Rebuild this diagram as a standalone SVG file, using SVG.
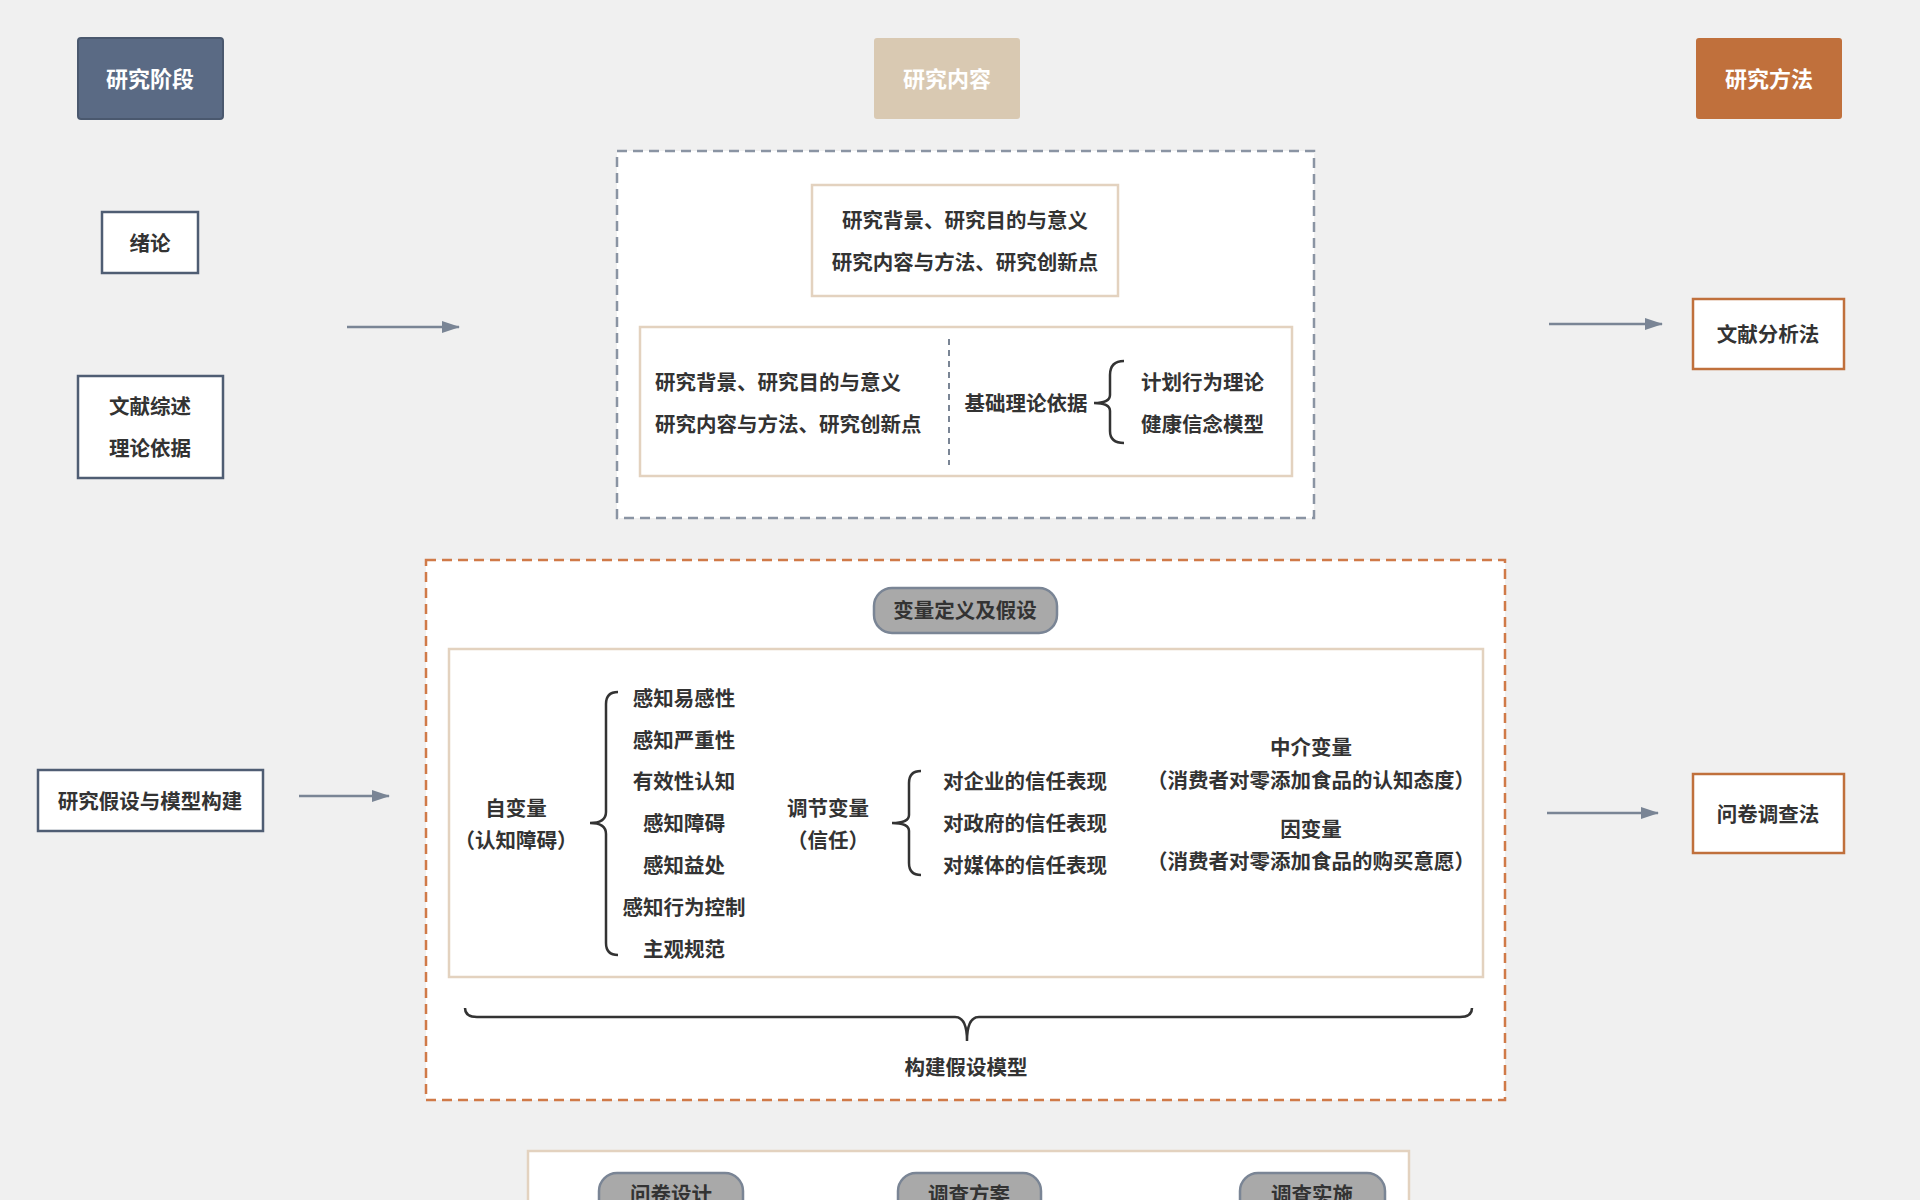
<svg xmlns="http://www.w3.org/2000/svg" width="1920" height="1200" viewBox="0 0 1920 1200">
<defs>
<style>
text{font-family:"Liberation Sans","Noto Sans CJK SC",sans-serif;font-weight:bold;font-size:20.5px;fill:#333;dominant-baseline:central}
.c{text-anchor:middle}
.hd{font-size:22px;fill:#fff}
.wb{fill:#fff;stroke:#4f5d73;stroke-width:2.5}
.ob{fill:#fff;stroke:#c0703c;stroke-width:2.5}
.tb{fill:#fff;stroke:#e3d2bf;stroke-width:2.5}
.pill{fill:#a9a9a9;stroke:#7a8595;stroke-width:2.5}
.br{fill:none;stroke:#333;stroke-width:2.5}
.ar{stroke:#7a8595;stroke-width:2.5;fill:none;marker-end:url(#ah)}
</style>
<marker id="ah" markerWidth="18" markerHeight="14" refX="17" refY="7" orient="auto" markerUnits="userSpaceOnUse"><path d="M0,1 L18,7 L0,13 z" fill="#7a8595"/></marker>
</defs>
<rect width="1920" height="1200" fill="#f0f0f0"/>
<g id="h1"><rect x="78" y="38" width="145" height="81" rx="3" fill="#5a6a84" stroke="#4a586e" stroke-width="2"/><text class="c hd" x="150" y="79">研究阶段</text></g>
<g id="h2"><rect x="874" y="38" width="146" height="81" rx="3" fill="#d9c9b2"/><text class="c hd" x="947" y="79">研究内容</text></g>
<g id="h3"><rect x="1696" y="38" width="146" height="81" rx="3" fill="#c0703c"/><text class="c hd" x="1769" y="79">研究方法</text></g>
<g id="n1"><rect class="wb" x="102" y="212" width="96" height="61"/><text class="c" x="150" y="243">绪论</text></g>
<g id="n2"><rect class="wb" x="78" y="376" width="145" height="102"/><text class="c" x="150" y="406">文献综述</text><text class="c" x="150" y="448">理论依据</text></g>
<g id="n3"><rect class="wb" x="38" y="770" width="225" height="61"/><text class="c" x="150" y="801">研究假设与模型构建</text></g>
<g id="m1"><rect class="ob" x="1693" y="299" width="151" height="70"/><text class="c" x="1768" y="334">文献分析法</text></g>
<g id="m2"><rect class="ob" x="1693" y="774" width="151" height="79"/><text class="c" x="1768" y="814">问卷调查法</text></g>
<g id="content1">
<rect x="617" y="151" width="697" height="367" fill="#fff" stroke="#8a94a3" stroke-width="2.5" stroke-dasharray="10,6"/>
<rect class="tb" x="812" y="185" width="306" height="111"/>
<text class="c" x="965" y="220">研究背景、研究目的与意义</text>
<text class="c" x="965" y="262">研究内容与方法、研究创新点</text>
<rect class="tb" x="640" y="327" width="652" height="149"/>
<line x1="949" y1="339" x2="949" y2="465" stroke="#7a8595" stroke-width="2" stroke-dasharray="6,5"/>
<text x="655" y="382">研究背景、研究目的与意义</text>
<text x="655" y="424">研究内容与方法、研究创新点</text>
<text class="c" x="1026" y="403">基础理论依据</text>
<path class="br" d="M1124,361 Q1110,361 1110,375 L1110,395 Q1110,403 1094,403 Q1110,403 1110,411 L1110,431 Q1110,443 1124,443"/>
<text x="1141" y="382">计划行为理论</text>
<text x="1141" y="424">健康信念模型</text>
</g>
<g id="content2">
<rect x="426" y="560" width="1079" height="540" fill="#fff" stroke="#d07a48" stroke-width="2.5" stroke-dasharray="10,6"/>
<rect class="pill" x="874" y="588" width="183" height="45" rx="18"/>
<text class="c" x="965" y="610">变量定义及假设</text>
<rect class="tb" x="449" y="649" width="1034" height="328"/>
<text class="c" x="516" y="808">自变量</text>
<text class="c" x="516" y="840">（认知障碍）</text>
<path class="br" d="M618,692 Q606,692 606,704 L606,812 Q606,823 590,823 Q606,823 606,834 L606,943 Q606,955 618,955"/>
<text class="c" x="684" y="698">感知易感性</text>
<text class="c" x="684" y="740">感知严重性</text>
<text class="c" x="684" y="781">有效性认知</text>
<text class="c" x="684" y="823">感知障碍</text>
<text class="c" x="684" y="865">感知益处</text>
<text class="c" x="684" y="907">感知行为控制</text>
<text class="c" x="684" y="949">主观规范</text>
<text class="c" x="828" y="808">调节变量</text>
<text class="c" x="828" y="840">（信任）</text>
<path class="br" d="M921,771 Q909,771 909,783 L909,815 Q909,823 892,823 Q909,823 909,831 L909,863 Q909,875 921,875"/>
<text x="943" y="781">对企业的信任表现</text>
<text x="943" y="823">对政府的信任表现</text>
<text x="943" y="865">对媒体的信任表现</text>
<text class="c" x="1311" y="747">中介变量</text>
<text class="c" x="1311" y="780">（消费者对零添加食品的认知态度）</text>
<text class="c" x="1311" y="829">因变量</text>
<text class="c" x="1311" y="861">（消费者对零添加食品的购买意愿）</text>
<path class="br" d="M465,1008 Q465,1017 477,1017 L955,1017 Q967,1017 967,1041 Q967,1017 979,1017 L1460,1017 Q1472,1017 1472,1008"/>
<text class="c" x="966" y="1067">构建假设模型</text>
</g>
<g id="content3">
<rect class="tb" x="528" y="1151" width="881" height="70"/>
<rect class="pill" x="599" y="1173" width="144" height="50" rx="18"/>
<text class="c" x="671" y="1194">问卷设计</text>
<rect class="pill" x="898" y="1173" width="143" height="50" rx="18"/>
<text class="c" x="969" y="1194">调查方案</text>
<rect class="pill" x="1240" y="1173" width="145" height="50" rx="18"/>
<text class="c" x="1312" y="1194">调查实施</text>
</g>
<g id="connectors">
<line class="ar" x1="347" y1="327" x2="459" y2="327"/>
<line class="ar" x1="1549" y1="324" x2="1662" y2="324"/>
<line class="ar" x1="299" y1="796" x2="389" y2="796"/>
<line class="ar" x1="1547" y1="813" x2="1658" y2="813"/>
</g>
</svg>
